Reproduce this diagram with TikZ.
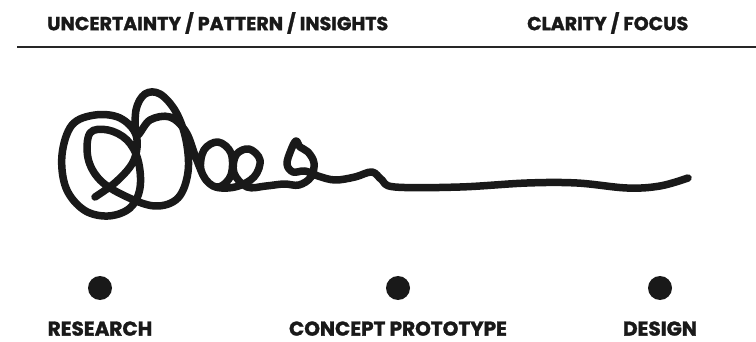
\documentclass[tikz,border=0pt]{standalone}
\usepackage{fontspec}
\setmainfont{Poppins}[BoldFeatures={FakeBold=1.5}]
\usetikzlibrary{positioning}

\begin{document}
\begin{tikzpicture}[x=1pt, y=-1pt,
  head/.style={font=\bfseries\fontsize{19}{19}\selectfont, text=black!90,
    inner sep=0pt, anchor=west},
  stage/.style={circle, fill=black!90, minimum size=24pt, inner sep=0pt},
  stagename/.style={font=\bfseries\fontsize{20}{20}\selectfont, text=black!90,
    inner sep=0pt}]
  \useasboundingbox (0,0) rectangle (756,342);
  \node[head] (fuzzy) at (47,23) {UNCERTAINTY / PATTERN / INSIGHTS};
  \node[head] (clear) at (527,23) {CLARITY / FOCUS};
  \coordinate (rulestart) at (17,47);
  \coordinate (ruleend) at (756,47);
  \draw[line width=2pt, black!85] (rulestart) -- (ruleend);
  \node[stage] (research) at (100,288) {};
  \node[stage] (concept)  at (398,288) {};
  \node[stage] (design)   at (660,288) {};
  \node[stagename, below=21pt of research] (researchname) {RESEARCH};
  \node[stagename, below=21pt of concept]  (conceptname)  {CONCEPT PROTOTYPE};
  \node[stagename, below=21pt of design]   (designname)   {DESIGN};
  \draw[line width=7.5pt, line cap=round, line join=round, black!90]
    plot[smooth, tension=0.6] coordinates {
      (95,197) (117,181) (134,160) (136,135) (120,118) (95,115) (72,125)
      (62,155) (66,188) (84,210) (108,216) (130,208) (140,188) (138,160)
      (127,140) (108,130) (90,133) (88,158) (100,180) (125,196) (155,206)
      (178,198) (188,172) (186,140) (176,112) (160,94) (145,94) (136,110)
      (137,135) (150,120) (170,117) (186,132) (196,158) (206,180) (219,187)
      (231,175) (231,153) (218,142) (204,150) (201,170) (213,186) (235,187)
      (254,177) (260,160) (249,149) (236,155) (234,173) (247,187) (266,186)
      (284,184) (299,185) (311,177) (314,163) (308,152) (300,147) (296,141)
      (291,150) (287,164) (293,172) (305,171) (318,176) (335,180) (355,177)
      (372,172) (382,180) (395,187) (460,187) (527,183) (577,183) (627,188)
      (660,186) (688,178)};
\end{tikzpicture}
\end{document}
